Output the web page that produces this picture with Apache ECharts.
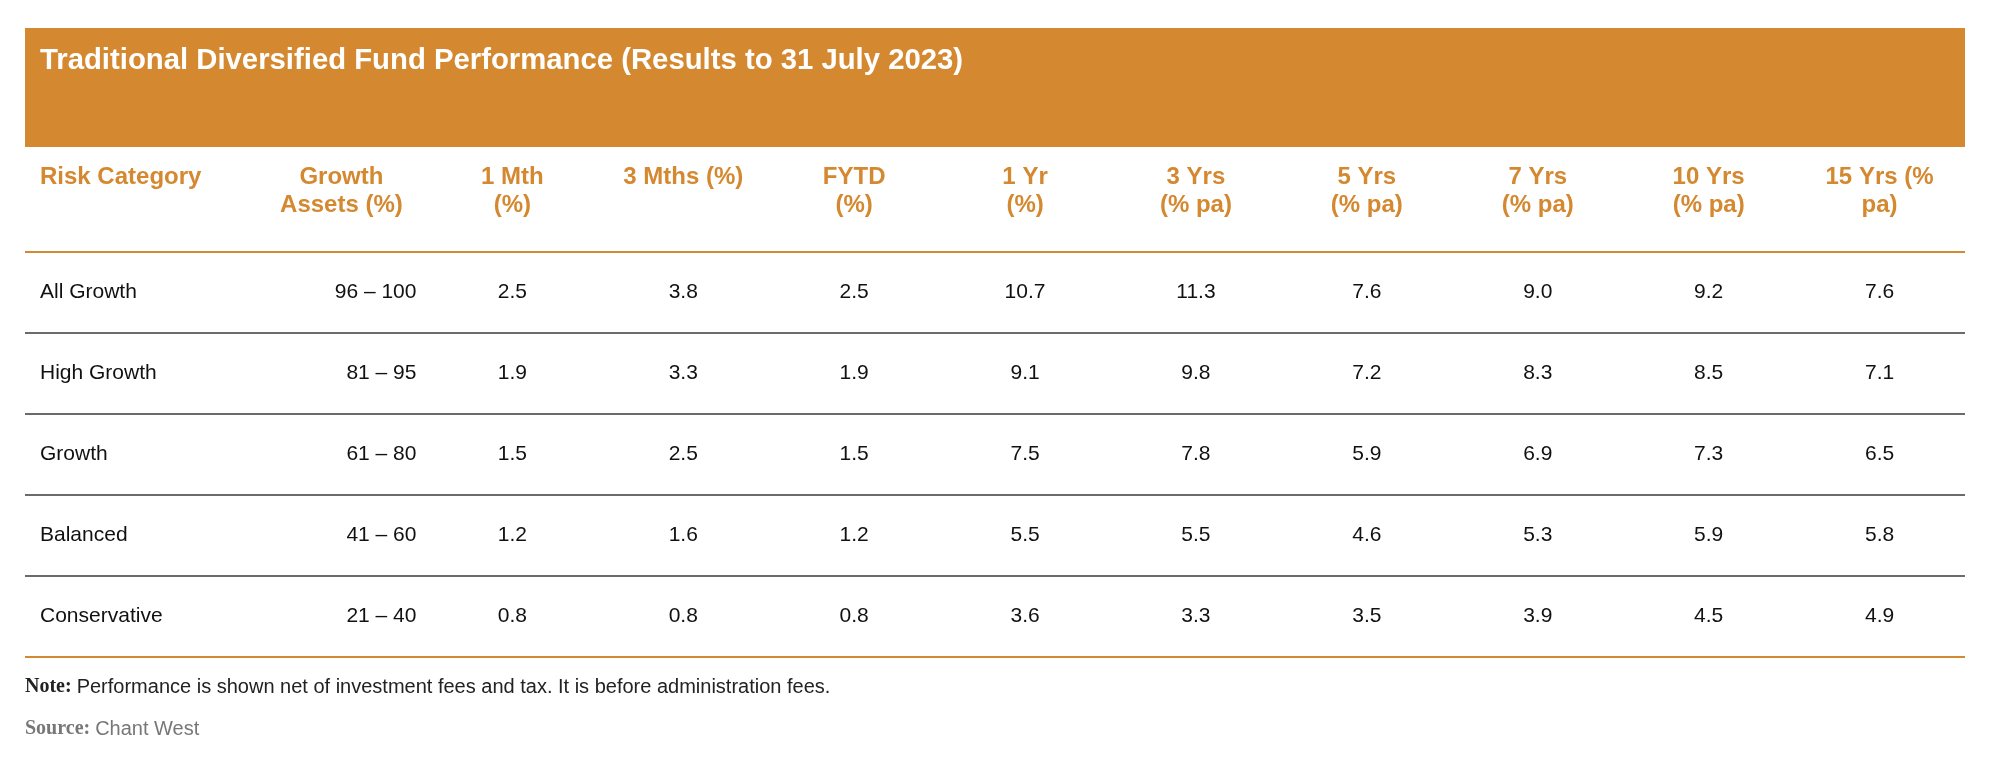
<!DOCTYPE html>
<html>
<head>
<meta charset="utf-8">
<title>Traditional Diversified Fund Performance</title>
<script src="https://cdn.jsdelivr.net/npm/echarts@6/dist/echarts.min.js"></script>
<style>
  html, body { margin: 0; padding: 0; background: #fff; }
  #table { width: 2013px; height: 772px; }
</style>
</head>
<body>
<div id="table"></div>
<script>
// rows and columns of the table
var riskCategories = ['All Growth', 'High Growth', 'Growth', 'Balanced', 'Conservative'];
var headers = ['Growth\nAssets (%)', '1 Mth\n(%)', '3 Mths (%)', 'FYTD\n(%)', '1 Yr\n(%)',
               '3 Yrs\n(% pa)', '5 Yrs\n(% pa)', '7 Yrs\n(% pa)', '10 Yrs\n(% pa)', '15 Yrs (%\npa)'];
var growthAssets = ['96 – 100', '81 – 95', '61 – 80', '41 – 60', '21 – 40'];
var oneMth     = [2.5, 1.9, 1.5, 1.2, 0.8];
var threeMths  = [3.8, 3.3, 2.5, 1.6, 0.8];
var fytd       = [2.5, 1.9, 1.5, 1.2, 0.8];
var oneYr      = [10.7, 9.1, 7.5, 5.5, 3.6];
var threeYrs   = [11.3, 9.8, 7.8, 5.5, 3.3];
var fiveYrs    = [7.6, 7.2, 5.9, 4.6, 3.5];
var sevenYrs   = [9.0, 8.3, 6.9, 5.3, 3.9];
var tenYrs     = [9.2, 8.5, 7.3, 5.9, 4.5];
var fifteenYrs = [7.6, 7.1, 6.5, 5.8, 4.9];

var orange = '#D4882F';
var ink = '#111';
var sans = '"Liberation Sans", Arial, Helvetica, sans-serif';
var serif = '"Liberation Serif", "Times New Roman", serif';

// cells: [column, row, text]
var assetCells = [];
growthAssets.forEach(function (v, r) { assetCells.push([0, r, v]); });
var numberCells = [];
[oneMth, threeMths, fytd, oneYr, threeYrs, fiveYrs, sevenYrs, tenYrs, fifteenYrs].forEach(function (col, c) {
    col.forEach(function (v, r) { numberCells.push([c + 1, r, v.toFixed(1)]); });
});

var chart = echarts.init(document.getElementById('table'));

var rowAxis = {
    type: 'category',
    inverse: true,
    data: riskCategories,
    axisLine: { show: false },
    axisTick: { show: false },
    splitLine: {
        show: true,
        lineStyle: { width: 2, color: [orange, '#6b6b6b', '#6b6b6b', '#6b6b6b', '#6b6b6b', orange] }
    }
};

var cellLabel = {
    show: true,
    position: 'inside',
    formatter: function (p) { return p.value[2]; },
    color: ink,
    opacity: 1,
    textBorderWidth: 0,
    fontSize: 21,
    fontFamily: sans
};

var option = {
    animation: false,
    graphic: [{
        type: 'rect',
        left: 25, top: 28,
        shape: { width: 1940, height: 119 },
        style: { fill: orange },
        z: 0
    }],
    title: [{
        text: 'Traditional Diversified Fund Performance (Results to 31 July 2023)',
        left: 40, top: 46, padding: 0,
        textStyle: { color: '#fff', fontSize: 29.3, fontWeight: 'bold', fontFamily: sans }
    }, {
        text: '{n|Note:} {t|Performance is shown net of investment fees and tax. It is before administration fees.}',
        left: 25, top: 677, padding: 0,
        textStyle: {
            fontWeight: 'normal',
            rich: {
                n: { fontFamily: serif, fontWeight: 'bold', fontSize: 20, color: '#222' },
                t: { fontFamily: sans, fontWeight: 'normal', fontSize: 20, color: '#222' }
            }
        }
    }, {
        text: '{n|Source:} {t|Chant West}',
        left: 25, top: 719, padding: 0,
        textStyle: {
            fontWeight: 'normal',
            rich: {
                n: { fontFamily: serif, fontWeight: 'bold', fontSize: 20, color: '#777' },
                t: { fontFamily: sans, fontWeight: 'normal', fontSize: 20, color: '#777' }
            }
        }
    }],
    grid: [
        { left: 25, width: 231, top: 252, bottom: 115 },
        { left: 256, right: 48, top: 252, bottom: 115 }
    ],
    xAxis: [{
        gridIndex: 0,
        type: 'category',
        data: [''],
        show: false
    }, {
        gridIndex: 1,
        type: 'category',
        position: 'top',
        data: headers,
        axisLine: { show: false },
        axisTick: { show: false },
        axisLabel: {
            interval: 0,
            margin: 89,
            verticalAlign: 'top',
            lineHeight: 28,
            color: orange,
            fontSize: 24,
            fontWeight: 'bold',
            fontFamily: sans
        }
    }],
    yAxis: [
        Object.assign({}, rowAxis, {
            gridIndex: 0,
            name: 'Risk Category',
            nameLocation: 'start',
            nameGap: 75,
            nameTextStyle: {
                align: 'left', verticalAlign: 'middle',
                padding: [0, 0, 0, 15],
                color: orange, fontSize: 24, fontWeight: 'bold', fontFamily: sans
            },
            axisLabel: {
                inside: true, margin: 15,
                color: ink, fontSize: 21, fontFamily: sans
            }
        }),
        Object.assign({}, rowAxis, {
            gridIndex: 1,
            axisLabel: { show: false }
        })
    ],
    series: [{
        type: 'scatter',
        xAxisIndex: 1, yAxisIndex: 1,
        symbolSize: 0,
        itemStyle: { opacity: 1 },
        data: assetCells,
        label: Object.assign({}, cellLabel, { align: 'right', offset: [75, 0] }),
        emphasis: { disabled: true }
    }, {
        type: 'scatter',
        xAxisIndex: 1, yAxisIndex: 1,
        symbolSize: 0,
        itemStyle: { opacity: 1 },
        data: numberCells,
        label: cellLabel,
        emphasis: { disabled: true }
    }]
};

chart.setOption(option);
</script>
</body>
</html>
